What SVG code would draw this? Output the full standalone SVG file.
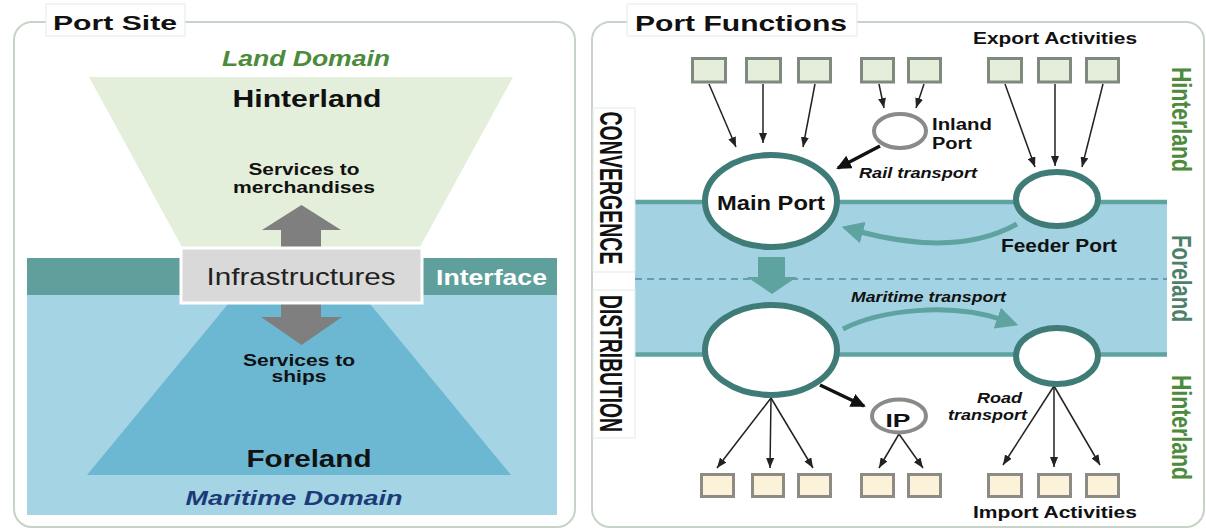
<svg xmlns="http://www.w3.org/2000/svg" width="1206" height="529" viewBox="0 0 1206 529">
<style>
text{font-family:"Liberation Sans",Arial,sans-serif;fill:#111}
.b{font-weight:bold}
.bi{font-weight:bold;font-style:italic}
.panel{fill:#fff;stroke:#c7d3c7;stroke-width:2}
.tbox{fill:#fff;stroke:#e3ebe3;stroke-width:1}
.port{fill:#fff;stroke:#3f7c78;stroke-width:6}
.small{fill:#fff;stroke:#8a8a8a;stroke-width:4}
.ex{fill:#e4eedb;stroke:#7d8a7d;stroke-width:3}
.im{fill:#fcf1d9;stroke:#8c8c84;stroke-width:3}
.thin{stroke:#222;stroke-width:1.5;fill:none;marker-end:url(#ah)}
.thick{stroke:#111;stroke-width:3.5;fill:none;marker-end:url(#ahb)}
.teal{stroke:#5fa3a0;stroke-width:5;fill:none;marker-end:url(#aht)}
.green{fill:#4d8a3c}
</style>
<defs>
<marker id="ah" markerUnits="userSpaceOnUse" markerWidth="10" markerHeight="8" refX="10" refY="4" orient="auto"><path d="M0,0 L10,4 L0,8 z" fill="#222"/></marker>
<marker id="ahb" markerUnits="userSpaceOnUse" markerWidth="15" markerHeight="14" refX="13" refY="7" orient="auto"><path d="M0,0 L15,7 L0,14 z" fill="#111"/></marker>
<marker id="aht" markerUnits="userSpaceOnUse" markerWidth="22" markerHeight="22" refX="6" refY="11" orient="auto"><path d="M0,0 L22,11 L0,22 z" fill="#5fa3a0"/></marker>
</defs>

<!-- LEFT PANEL: Port Site -->
<g id="port-site">
<rect class="panel" x="14" y="22" width="561" height="505" rx="18"/>
<rect class="tbox" x="46" y="4" width="139" height="32"/>
<text class="b" x="53" y="30" font-size="21" textLength="124" lengthAdjust="spacingAndGlyphs">Port Site</text>
<text class="bi" x="306" y="66" font-size="22" text-anchor="middle" textLength="168" lengthAdjust="spacingAndGlyphs" style="fill:#4b8b3b">Land Domain</text>
</g>
<g id="hinterland-zone">
<polygon points="89,77 513,77 414,258 188,258" fill="#e4efdb"/>
<text class="b" x="307" y="107" font-size="24" text-anchor="middle" textLength="149" lengthAdjust="spacingAndGlyphs">Hinterland</text>
<text class="b" x="304" y="175" font-size="16" text-anchor="middle" textLength="111" lengthAdjust="spacingAndGlyphs">Services to</text>
<text class="b" x="304" y="193" font-size="16" text-anchor="middle" textLength="142" lengthAdjust="spacingAndGlyphs">merchandises</text>
</g>
<g id="foreland-zone">
<rect x="27" y="295" width="530" height="220" fill="#a5d4e4"/>
<polygon points="87,475 235.5,295 362.6,295 511,475" fill="#6cb8d3"/>
<text class="b" x="299" y="366" font-size="16" text-anchor="middle" textLength="112" lengthAdjust="spacingAndGlyphs">Services to</text>
<text class="b" x="299" y="382" font-size="16" text-anchor="middle" textLength="55" lengthAdjust="spacingAndGlyphs">ships</text>
<text class="b" x="309" y="467" font-size="24" text-anchor="middle" textLength="125" lengthAdjust="spacingAndGlyphs">Foreland</text>
<text class="bi" x="294" y="505" font-size="21" text-anchor="middle" textLength="217" lengthAdjust="spacingAndGlyphs" style="fill:#1d3a78">Maritime Domain</text>
</g>
<g id="interface">
<rect x="27" y="258" width="530" height="37" fill="#5fa09d"/>
<text class="b" x="436" y="285" font-size="22" textLength="111" lengthAdjust="spacingAndGlyphs" style="fill:#fff">Interface</text>
</g>
<g id="service-arrows">
<polygon points="281,247 281,230 262,230 301.5,205 341,230 321,230 321,247" fill="#7f7f7f"/>
<polygon points="281,304 281,317 261,317 301.5,345 342,317 321,317 321,304" fill="#7f7f7f"/>
</g>
<g id="infrastructures">
<rect x="181" y="248" width="241" height="55" fill="#d9d9d9" stroke="#fff" stroke-width="3"/>
<text x="301" y="285" font-size="24" text-anchor="middle" textLength="189" lengthAdjust="spacingAndGlyphs" style="fill:#222">Infrastructures</text>
</g>

<!-- RIGHT PANEL: Port Functions -->
<g id="port-functions">
<rect class="panel" x="592" y="22" width="612" height="505" rx="18"/>
<rect class="tbox" x="627" y="4" width="230" height="32"/>
<text class="b" x="635" y="31" font-size="22" textLength="212" lengthAdjust="spacingAndGlyphs">Port Functions</text>
</g>
<g id="foreland-band">
<rect x="635" y="202" width="532" height="152" fill="#a3d3e3"/>
<line x1="635" y1="202" x2="1167" y2="202" stroke="#5fa3a0" stroke-width="4.5"/>
<line x1="635" y1="354.5" x2="1167" y2="354.5" stroke="#5fa3a0" stroke-width="4.5"/>
<line x1="635" y1="279" x2="1167" y2="279" stroke="#4f8fa5" stroke-width="1.5" stroke-dasharray="7 5"/>
</g>
<g id="convergence">
<rect class="tbox" x="593" y="108" width="42" height="164"/>
<text class="b" transform="translate(600,188) rotate(90)" font-size="32" text-anchor="middle" textLength="153" lengthAdjust="spacingAndGlyphs">CONVERGENCE</text>
</g>
<g id="distribution">
<rect class="tbox" x="593" y="290" width="42" height="148"/>
<text class="b" transform="translate(600,363.5) rotate(90)" font-size="32" text-anchor="middle" textLength="137" lengthAdjust="spacingAndGlyphs">DISTRIBUTION</text>
</g>
<g id="side-labels">
<text class="b green" transform="translate(1172,119.5) rotate(90)" font-size="27" text-anchor="middle" textLength="105" lengthAdjust="spacingAndGlyphs">Hinterland</text>
<text class="b" transform="translate(1172,278.5) rotate(90)" font-size="27" text-anchor="middle" textLength="87" lengthAdjust="spacingAndGlyphs" style="fill:#4d7f6a">Foreland</text>
<text class="b green" transform="translate(1172,427.5) rotate(90)" font-size="27" text-anchor="middle" textLength="105" lengthAdjust="spacingAndGlyphs">Hinterland</text>
</g>

<g id="export-activities">
<text class="b" x="973" y="44" font-size="16" textLength="164" lengthAdjust="spacingAndGlyphs">Export Activities</text>
<rect class="ex" x="692.5" y="58.5" width="33" height="23.5"/>
<rect class="ex" x="746.5" y="58.5" width="34" height="23.5"/>
<rect class="ex" x="798.5" y="58.5" width="32" height="23.5"/>
<rect class="ex" x="861.5" y="58.5" width="32" height="23.5"/>
<rect class="ex" x="908.5" y="58.5" width="32" height="23.5"/>
<rect class="ex" x="988.5" y="58.5" width="33" height="23.5"/>
<rect class="ex" x="1038.5" y="58.5" width="32" height="23.5"/>
<rect class="ex" x="1086.5" y="58.5" width="32" height="23.5"/>
</g>
<g id="import-activities">
<rect class="im" x="701.5" y="474.5" width="32" height="22"/>
<rect class="im" x="752.5" y="474.5" width="31" height="22"/>
<rect class="im" x="798.5" y="474.5" width="32" height="22"/>
<rect class="im" x="861.5" y="474.5" width="32" height="22"/>
<rect class="im" x="908.5" y="474.5" width="32" height="22"/>
<rect class="im" x="988.5" y="474.5" width="33" height="22"/>
<rect class="im" x="1038.5" y="474.5" width="32" height="22"/>
<rect class="im" x="1086.5" y="474.5" width="32" height="22"/>
<text class="b" x="973" y="518" font-size="17" textLength="164" lengthAdjust="spacingAndGlyphs">Import Activities</text>
</g>

<g id="connectors">
<line class="thin" x1="709" y1="84" x2="736" y2="147"/>
<line class="thin" x1="763" y1="84" x2="763" y2="143"/>
<line class="thin" x1="815" y1="84" x2="803" y2="147"/>
<line class="thin" x1="879" y1="84" x2="884" y2="108"/>
<line class="thin" x1="924" y1="84" x2="916" y2="108"/>
<line class="thin" x1="1005" y1="84" x2="1035" y2="167"/>
<line class="thin" x1="1055" y1="84" x2="1055" y2="166"/>
<line class="thin" x1="1103" y1="84" x2="1082" y2="167"/>
<line class="thin" x1="771" y1="398" x2="717" y2="468"/>
<line class="thin" x1="771" y1="398" x2="770" y2="468"/>
<line class="thin" x1="771" y1="398" x2="813" y2="468"/>
<line class="thin" x1="899" y1="434" x2="879" y2="468"/>
<line class="thin" x1="899" y1="434" x2="923" y2="468"/>
<line class="thin" x1="1054" y1="386" x2="1003" y2="465"/>
<line class="thin" x1="1054" y1="386" x2="1054" y2="467"/>
<line class="thin" x1="1054" y1="386" x2="1100" y2="465"/>
<line class="thick" x1="880" y1="146" x2="838" y2="168"/>
<line class="thick" x1="820" y1="385" x2="864" y2="406"/>
<path class="teal" d="M1017,224 C985,242 935,252 857,231"/>
<path class="teal" d="M843,329 C880,310 950,302 1003,320"/>
<polygon points="758,257 785,257 785,277 797,277 772,294 747,277 758,277" fill="#5fa3a0"/>
<text class="bi" x="859" y="178" font-size="15" textLength="118" lengthAdjust="spacingAndGlyphs">Rail transport</text>
<text class="bi" x="851" y="302" font-size="15" textLength="155" lengthAdjust="spacingAndGlyphs">Maritime transport</text>
<text class="bi" x="1022" y="403" font-size="15" text-anchor="end" textLength="45" lengthAdjust="spacingAndGlyphs">Road</text>
<text class="bi" x="1027" y="420" font-size="15" text-anchor="end" textLength="79" lengthAdjust="spacingAndGlyphs">transport</text>
</g>

<g id="main-port">
<ellipse class="port" cx="771" cy="201" rx="66" ry="46"/>
<text class="b" x="771" y="210" font-size="20" text-anchor="middle" textLength="108" lengthAdjust="spacingAndGlyphs">Main Port</text>
</g>
<g id="distribution-port">
<ellipse class="port" cx="771" cy="350" rx="66" ry="45"/>
</g>
<g id="feeder-port">
<ellipse class="port" cx="1057" cy="199" rx="41" ry="27" stroke-width="5"/>
<text class="b" x="1001" y="252" font-size="19" textLength="116" lengthAdjust="spacingAndGlyphs">Feeder Port</text>
</g>
<g id="feeder-port-2">
<ellipse class="port" cx="1057" cy="356" rx="41" ry="28" stroke-width="5"/>
</g>
<g id="inland-port">
<ellipse class="small" cx="900" cy="131" rx="26" ry="17"/>
<text class="b" x="932" y="130" font-size="16" textLength="60" lengthAdjust="spacingAndGlyphs">Inland</text>
<text class="b" x="932" y="149" font-size="16" textLength="40" lengthAdjust="spacingAndGlyphs">Port</text>
</g>
<g id="ip">
<ellipse class="small" cx="899" cy="416" rx="27" ry="16.5"/>
<text class="b" x="898" y="427" font-size="18" text-anchor="middle" textLength="25" lengthAdjust="spacingAndGlyphs">IP</text>
</g>
</svg>
